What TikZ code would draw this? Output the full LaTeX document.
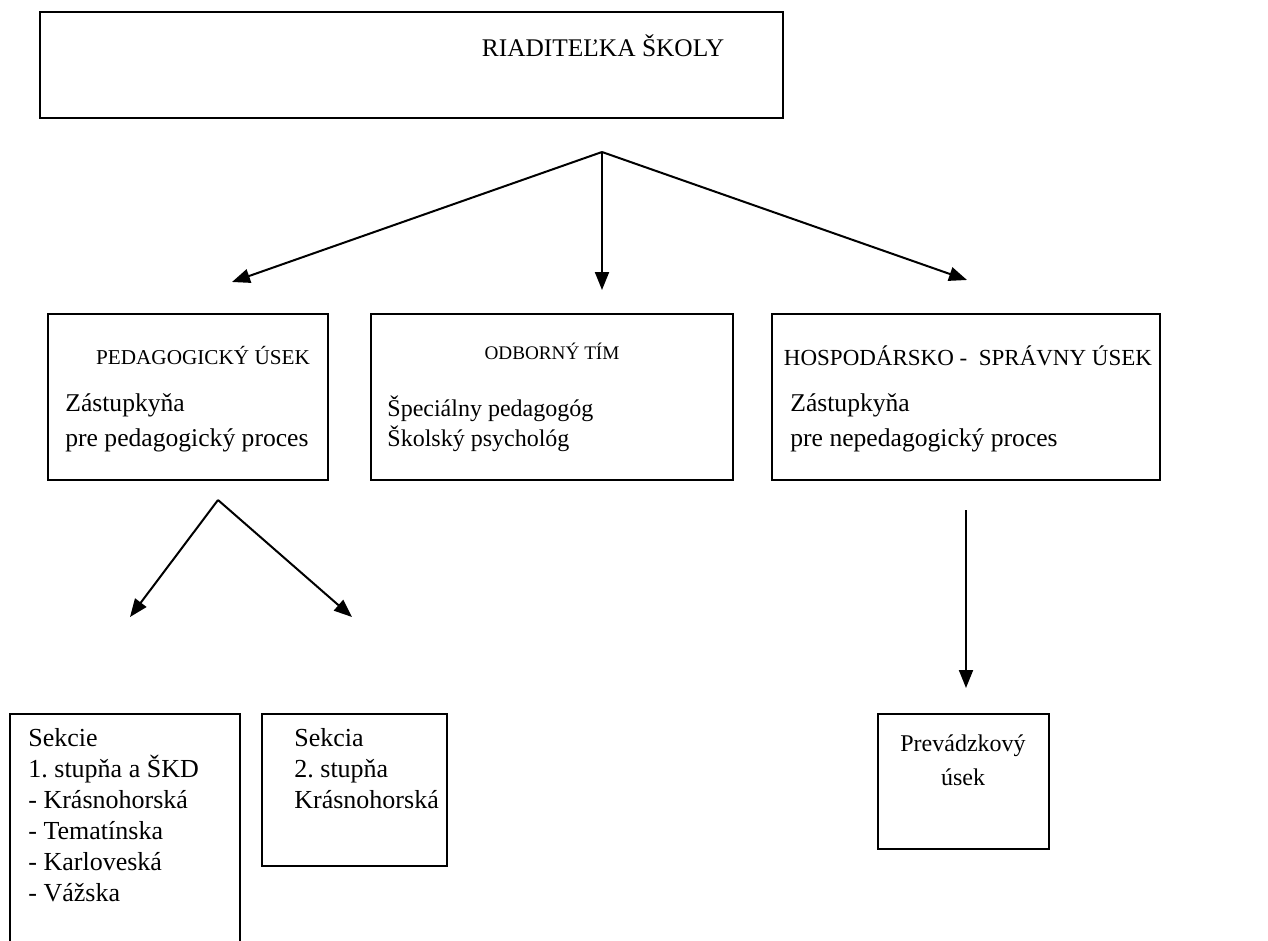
\documentclass[tikz,border=0pt]{standalone}
\usepackage{fontspec}
\setmainfont{Liberation Serif}
\usetikzlibrary{arrows.meta}
\frenchspacing
\begin{document}
\begin{tikzpicture}[x=0.5pt, y=-0.5pt,
        box/.style={draw, line width=0.8pt, inner sep=0pt},
        txt/.style={inner sep=0pt, font=\fontsize{12.8}{15}\selectfont},
        head/.style={inner sep=0pt, font=\fontsize{12}{14}\selectfont},
        sek/.style={inner sep=0pt, font=\fontsize{13}{15}\selectfont},
        arr/.style={-{Triangle[length=9pt, width=7pt]}, line width=1pt}]
        \useasboundingbox (0,0) rectangle (1268,941);

        % boxes
        \node[box, minimum width=371.5pt, minimum height=53pt] (riad) at (411.5,65) {};
        \node[box, minimum width=140pt, minimum height=83pt] (ped) at (188,397) {};
        \node[box, minimum width=181pt, minimum height=83pt] (odb) at (552,397) {};
        \node[box, minimum width=194pt, minimum height=83pt] (hosp) at (966,397) {};
        \node[box, minimum width=115pt, minimum height=123pt] (sek1) at (125,837) {};
        \node[box, minimum width=92.5pt, minimum height=76pt] (sek2) at (354.5,790) {};
        \node[box, minimum width=85.5pt, minimum height=67.5pt] (prev) at (963.5,781.5) {};

        % texts
        \node[head, font=\fontsize{12.7}{14}\selectfont] (riadtxt) at (603,46) {RIADITEĽKA ŠKOLY};
        \node[head, font=\fontsize{10.6}{13}\selectfont] (pedhead) at (203,356) {PEDAGOGICKÝ ÚSEK};
        \node[head, font=\fontsize{9.6}{12}\selectfont] (odbhead) at (552,351) {ODBORNÝ TÍM};
        \node[head, font=\fontsize{11.5}{14}\selectfont] (hosphead) at (968,356) {HOSPODÁRSKO -\ \ SPRÁVNY ÚSEK};

        \node[txt, anchor=mid west] (ped1) at (65,407) {Zástupkyňa};
        \node[txt, anchor=mid west] (ped2) at (65,442) {pre pedagogický proces};
        \node[head, anchor=mid west] (odb1) at (387,412) {Špeciálny pedagogóg};
        \node[head, anchor=mid west] (odb2) at (387,442) {Školský psychológ};
        \node[txt, anchor=mid west] (hosp1) at (790,407) {Zástupkyňa};
        \node[txt, anchor=mid west] (hosp2) at (790,442) {pre nepedagogický proces};

        \foreach \t [count=\i] in {Sekcie, 1. stupňa a ŠKD, - Krásnohorská, - Tematínska, - Karloveská, - Vážska}
        {
            \node[sek, anchor=mid west] (s1-\i) at (28,711+31*\i) {\t};
        }
        \foreach \t [count=\i] in {Sekcia, 2. stupňa, Krásnohorská}
        {
            \node[sek, anchor=mid west] (s2-\i) at (294,711+31*\i) {\t};
        }
        \node[head] (prev1) at (963,746) {Prevádzkový};
        \node[head] (prev2) at (963,777) {úsek};

        % arrows
        \coordinate (top) at (602,152);
        \coordinate (pedin) at (232,282);
        \coordinate (odbin) at (602,290);
        \coordinate (hospin) at (967,280);
        \coordinate (pedout) at (218,500);
        \coordinate (sek1in) at (130,617);
        \coordinate (sek2in) at (352,617);
        \coordinate (hospout) at (966,510);
        \coordinate (previn) at (966,688);

        \draw[arr] (top) -- (pedin);
        \draw[arr] (top) -- (odbin);
        \draw[arr] (top) -- (hospin);
        \draw[arr] (pedout) -- (sek1in);
        \draw[arr] (pedout) -- (sek2in);
        \draw[arr] (hospout) -- (previn);
    \end{tikzpicture}
\end{document}
